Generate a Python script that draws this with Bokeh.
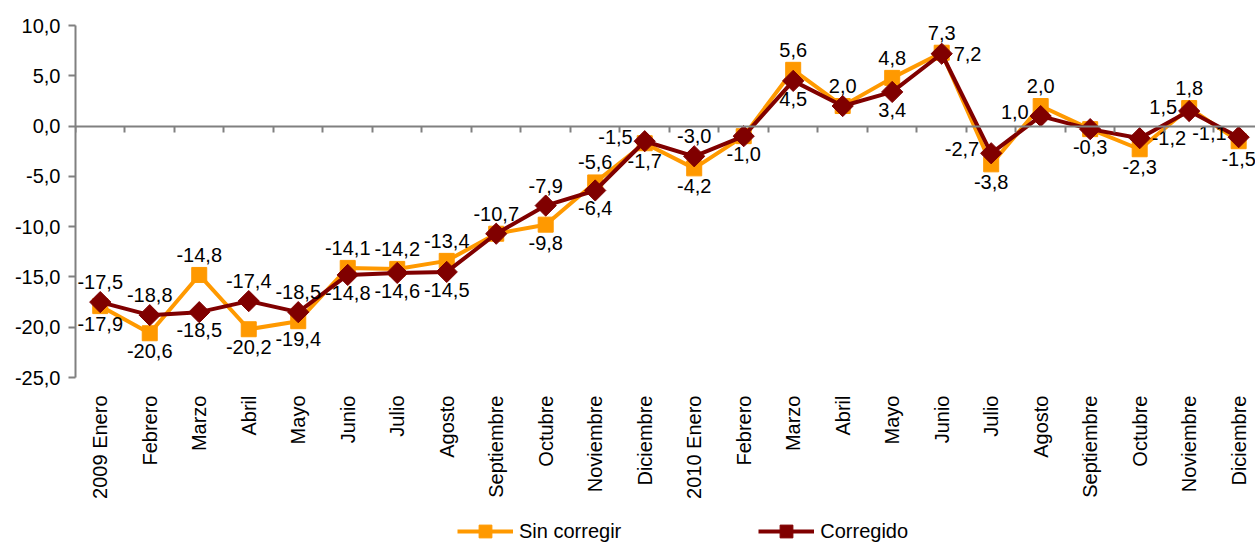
import math
from bokeh.plotting import figure
from bokeh.layouts import column
from bokeh.models import (ColumnDataSource, FixedTicker, LinearAxis, Range1d,
                          Legend, LegendItem)
from bokeh.core.properties import value
from bokeh.embed import file_html
from bokeh.resources import INLINE

# ---------------- data ----------------
categories = ["2009 Enero", "Febrero", "Marzo", "Abril", "Mayo", "Junio", "Julio",
              "Agosto", "Septiembre", "Octubre", "Noviembre", "Diciembre",
              "2010 Enero", "Febrero", "Marzo", "Abril", "Mayo", "Junio", "Julio",
              "Agosto", "Septiembre", "Octubre", "Noviembre", "Diciembre"]
sin_corregir = [-17.9, -20.6, -14.8, -20.2, -19.4, -14.1, -14.2, -13.4, -10.7, -9.8,
                -5.6, -1.7, -4.2, -1.0, 5.6, 2.0, 4.8, 7.3, -3.8, 2.0, -0.3, -2.3,
                1.8, -1.5]
corregido = [-17.5, -18.8, -18.5, -17.4, -18.5, -14.8, -14.6, -14.5, -10.7, -7.9,
             -6.4, -1.5, -3.0, -1.0, 4.5, 2.0, 3.4, 7.2, -2.7, 1.0, -0.3, -1.2,
             1.5, -1.1]
y_ticks = [-25, -20, -15, -10, -5, 0, 5, 10]
series_names = ["Sin corregir", "Corregido"]

# label placement (layout only): a=above, b=below, l=left, r=right, n=none
pos_sin = ["b", "b", "a", "b", "b", "a", "a", "a", "n", "b", "a", "b",
           "b", "n", "a", "n", "a", "a", "b", "a", "n", "b", "a", "b"]
pos_cor = ["a", "a", "b", "a", "a", "b", "b", "b", "a", "a", "b", "l",
           "a", "b", "b", "a", "b", "r", "l", "l", "b", "r", "l", "l"]

ORANGE = "#FF9900"
MAROON = "#800000"
AXIS_GREY = "#808080"
FONT = "Liberation Sans"


def fmt(v):
    return f"{v:.1f}".replace(".", ",")


xs = list(range(len(categories)))

p = figure(width=1255, height=510, output_backend="svg", toolbar_location=None,
           x_range=Range1d(-0.5, 23.34), y_range=Range1d(-25, 11.5),
           min_border_left=75, min_border_right=0, min_border_top=10,
           min_border_bottom=133, outline_line_color=None)
p.xgrid.visible = False
p.ygrid.visible = False

# y axis
ya = p.yaxis[0]
ya.ticker = FixedTicker(ticks=y_ticks)
ya.major_label_overrides = {t: fmt(t) for t in y_ticks}
ya.bounds = (-25, 10)
ya.axis_line_color = AXIS_GREY
ya.axis_line_width = 2
ya.major_tick_line_color = AXIS_GREY
ya.major_tick_line_width = 2
ya.major_tick_out = 7
ya.major_tick_in = 0
ya.minor_tick_line_color = None
ya.major_label_text_font = FONT
ya.major_label_text_font_size = "20px"
ya.major_label_text_color = "#000000"
ya.major_label_standoff = 8

# x axis with category labels (bottom)
xa = p.xaxis[0]
xa.ticker = FixedTicker(ticks=xs)
xa.major_label_overrides = {i: c for i, c in enumerate(categories)}
xa.axis_line_color = None
xa.major_tick_line_color = None
xa.minor_tick_line_color = None
xa.major_tick_out = 0
xa.major_tick_in = 0
xa.major_label_orientation = math.pi / 2
xa.major_label_standoff = 18
xa.major_label_text_font = FONT
xa.major_label_text_font_size = "20px"
xa.major_label_text_color = "#000000"

# category axis crossing at 0, with tick marks between the categories
zero_axis = LinearAxis(fixed_location=0,
                       ticker=FixedTicker(ticks=[i - 0.5 for i in range(len(categories) + 1)]),
                       axis_line_color=AXIS_GREY, axis_line_width=2,
                       major_tick_line_color=AXIS_GREY, major_tick_line_width=2,
                       major_tick_out=6, major_tick_in=0,
                       minor_tick_line_color=None, major_label_text_color=None,
                       major_label_standoff=0)
p.add_layout(zero_axis, "below")

src_o = ColumnDataSource(dict(x=xs, y=sin_corregir))
src_m = ColumnDataSource(dict(x=xs, y=corregido))

LINE_O = dict(line_color=ORANGE, line_width=4)
MARK_O = dict(marker="square", size=15, fill_color=ORANGE, line_color=ORANGE)
LINE_M = dict(line_color=MAROON, line_width=4)
MARK_M = dict(marker="square", size=15, angle=math.pi / 4, fill_color=MAROON,
              line_color=MAROON)

p.line("x", "y", source=src_o, **LINE_O)
p.scatter("x", "y", source=src_o, **MARK_O)
p.line("x", "y", source=src_m, **LINE_M)
p.scatter("x", "y", source=src_m, **MARK_M)

OFFS = {
    "a": dict(x_offset=0, y_offset=-13, text_align="center", text_baseline="bottom"),
    "b": dict(x_offset=0, y_offset=11, text_align="center", text_baseline="top"),
    "l": dict(x_offset=-12, y_offset=-4, text_align="right", text_baseline="middle"),
    "r": dict(x_offset=12, y_offset=0, text_align="left", text_baseline="middle"),
}


def add_labels(vals, positions):
    for key, kw in OFFS.items():
        idx = [i for i in xs if positions[i] == key]
        if not idx:
            continue
        src = ColumnDataSource(dict(x=idx, y=[vals[i] for i in idx],
                                    t=[fmt(vals[i]) for i in idx]))
        p.text("x", "y", text="t", source=src, text_font=value(FONT),
               text_font_size="20px", text_color="#000000", **kw)


add_labels(sin_corregir, pos_sin)
add_labels(corregido, pos_cor)

# legend strip below the chart (same series, drawn out of this strip's view)
pl = figure(width=1255, height=35, output_backend="svg", toolbar_location=None,
            x_axis_type=None, y_axis_type=None, x_range=Range1d(0, 1),
            y_range=Range1d(100, 101), min_border=0, outline_line_color=None)
pl.xgrid.visible = False
pl.ygrid.visible = False
lo = pl.line("x", "y", source=src_o, **LINE_O)
so = pl.scatter("x", "y", source=src_o, **MARK_O)
lm = pl.line("x", "y", source=src_m, **LINE_M)
sm = pl.scatter("x", "y", source=src_m, **MARK_M)

legend = Legend(items=[LegendItem(label=series_names[0], renderers=[lo, so]),
                       LegendItem(label=series_names[1], renderers=[lm, sm])],
                location=(382, -2), orientation="horizontal",
                border_line_color=None, background_fill_alpha=0,
                glyph_width=56, glyph_height=32, label_standoff=6, spacing=137,
                padding=0, margin=0, label_text_font=FONT,
                label_text_font_size="20px", label_text_color="#000000")
pl.add_layout(legend)

layout = column(p, pl, spacing=0)
open("out.html", "w").write(file_html(layout, INLINE))
